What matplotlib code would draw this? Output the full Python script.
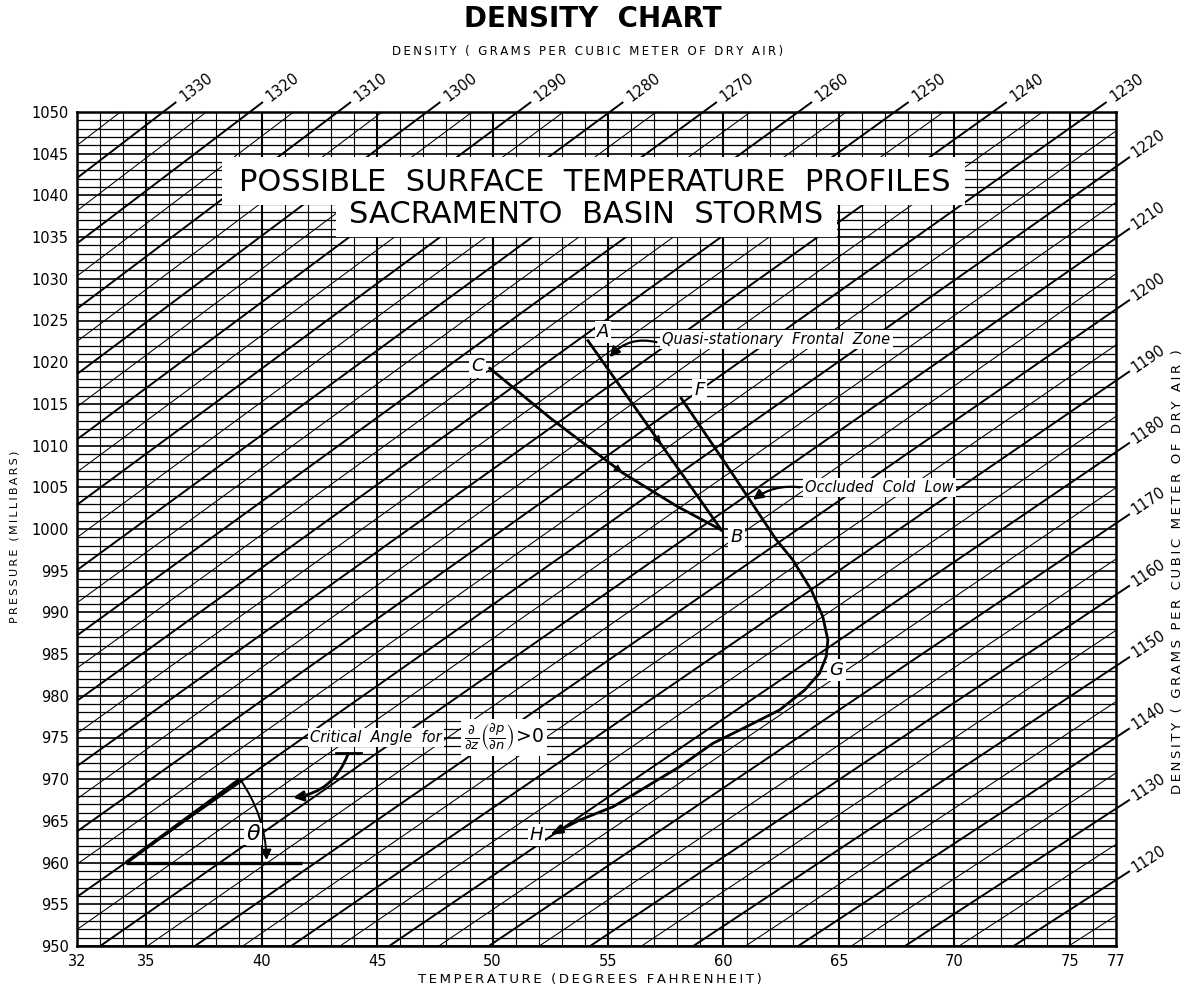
import numpy as np
import matplotlib
matplotlib.use("Agg")
import matplotlib.pyplot as plt
from matplotlib.patches import FancyArrowPatch, Rectangle

# ---------------- data ----------------
temp_ticks = [32, 35, 40, 45, 50, 55, 60, 65, 70, 75, 77]
pressure_ticks = list(range(950, 1051, 5))
temp_grid = list(range(32, 78))            # vertical rulings, every 1 F
pressure_grid = list(range(950, 1051))     # horizontal rulings, every 1 mb
density_values = list(range(1110, 1345, 5))  # density isopleths, g/m3
top_labels = [1330, 1320, 1310, 1300, 1290, 1280, 1270, 1260, 1250, 1240, 1230]
right_labels = [1220, 1210, 1200, 1190, 1180, 1170, 1160, 1150, 1140, 1130, 1120]

# profiles (temperature F, pressure mb)
ab_T = [54.13, 59.91]
ab_p = [1022.58, 999.88]
cb_T = [49.88, 52.5, 55.65, 58.0, 59.91]
cb_p = [1019.27, 1013.3, 1006.7, 1002.7, 999.88]
fgh_T = [58.17, 60.27, 62.0, 62.29, 63.0, 63.8, 64.3, 64.52, 64.45, 64.16,
         63.52, 62.43, 61.0, 59.54, 58.1, 56.66, 55.22, 53.77, 52.48]
fgh_p = [1015.67, 1007.1, 999.9, 998.7, 996.3, 992.7, 989.5, 986.7, 984.7, 982.7,
         980.7, 978.3, 976.3, 974.3, 971.5, 969.1, 966.7, 965.1, 963.3]

point_labels = ["A", "B", "C", "F", "G", "H"]
point_T = [54.78, 60.56, 49.35, 58.97, 64.89, 51.9]
point_p = [1023.66, 999.1, 1019.5, 1016.7, 983.1, 963.3]

# critical angle construction
crit_T = [34.13, 39.06]
crit_p = [960.0, 970.0]
base_T = [34.13, 41.75]
base_p = [960.0, 960.0]

R_DRY = 287.05
T_OFF = 0.35


def p_of(rho, T):
    return rho / 1000 * R_DRY * ((T - 32 - T_OFF) * 5 / 9 + 273.15) / 100


def T_of(rho, p):
    return (p * 100 / (rho / 1000 * R_DRY) - 273.15) * 9 / 5 + 32 + T_OFF


def spaced(s, sep="\u2009"):
    return sep.join(list(s))


# ---------------- figure ----------------
W, H = 1186, 990
fig = plt.figure(figsize=(W / 100, H / 100), dpi=100)
ax = fig.add_axes([77 / W, 44 / H, (1116 - 77) / W, (946 - 112) / H])
ax.set_xlim(32, 77)
ax.set_ylim(950, 1050)

# rulings
for t in temp_grid:
    lw = 1.5 if t % 5 == 0 else 0.8
    ax.axvline(t, color="black", lw=lw, zorder=1)
for p in pressure_grid:
    lw = 1.2 if p % 5 == 0 else 0.9
    ax.axhline(p, color="black", lw=lw, zorder=1)

# density isopleths
for rho in density_values:
    T0 = max(32.0, T_of(rho, 950))
    T1 = min(77.0, T_of(rho, 1050))
    if T0 >= T1:
        continue
    labeled = rho in top_labels or rho in right_labels
    if labeled:
        if T_of(rho, 1050) <= 77:
            pe = 1051.2
            Te = T_of(rho, pe)
        else:
            Te = 77.6
            pe = p_of(rho, Te)
    else:
        Te, pe = T1, p_of(rho, T1)
    lw = 1.4 if rho % 10 == 0 else 0.75
    ax.plot([T0, Te], [p_of(rho, T0), pe], color="black", lw=lw,
            zorder=1.5, clip_on=False, solid_capstyle="butt")
    if labeled:
        d0 = ax.transData.transform((Te, pe))
        d1 = ax.transData.transform((Te + 1, p_of(rho, Te + 1)))
        ang = np.degrees(np.arctan2(d1[1] - d0[1], d1[0] - d0[0]))
        ux, uy = np.cos(np.radians(ang)), np.sin(np.radians(ang))
        off = 4.5 if rho in top_labels else 3.0
        ax.annotate(str(rho), xy=(Te, pe), xytext=(off * ux, off * uy),
                    textcoords="offset points", rotation=ang,
                    rotation_mode="anchor", ha="left", va="center",
                    fontsize=10.5, annotation_clip=False)

# axes styling
for s in ax.spines.values():
    s.set_linewidth(1.8)
    s.set_zorder(6)
ax.set_xticks(temp_ticks)
ax.set_yticks(pressure_ticks)
ax.tick_params(length=0, labelsize=10.5, pad=6)

# title box
ax.add_patch(Rectangle((38.3, 1038.85), 70.45 - 38.3, 1044.6 - 1038.85,
                       facecolor="white", edgecolor="none", zorder=3))
ax.add_patch(Rectangle((43.2, 1035.0), 64.9 - 43.2, 1038.9 - 1035.0,
                       facecolor="white", edgecolor="none", zorder=3))
ax.text(54.42, 1041.6, "POSSIBLE  SURFACE  TEMPERATURE  PROFILES",
        ha="center", va="center", fontsize=22, zorder=4)
ax.text(54.03, 1037.65, "SACRAMENTO  BASIN  STORMS",
        ha="center", va="center", fontsize=22, zorder=4)

# profiles
plw = 2.0
ax.plot(ab_T, ab_p, color="black", lw=plw, zorder=4)
ax.plot(cb_T, cb_p, color="black", lw=plw, zorder=4, solid_joinstyle="round")
ax.plot(fgh_T[:-1], fgh_p[:-1], color="black", lw=plw, zorder=4,
        solid_joinstyle="round")
ax.annotate("", xy=(fgh_T[-1], fgh_p[-1]), xytext=(fgh_T[-2], fgh_p[-2]),
            arrowprops=dict(arrowstyle="-|>,head_length=0.7,head_width=0.25",
                            color="black", lw=plw, shrinkA=0, shrinkB=0),
            zorder=4)


def mid_arrow(T0, p0, T1, p1, frac):
    Tm = T0 + (T1 - T0) * frac
    pm = p0 + (p1 - p0) * frac
    Tb = Tm - (T1 - T0) * 0.03
    pb = pm - (p1 - p0) * 0.03
    ax.annotate("", xy=(Tm, pm), xytext=(Tb, pb),
                arrowprops=dict(arrowstyle="-|>,head_length=0.6,head_width=0.25",
                                color="black", lw=0.5, shrinkA=0, shrinkB=0),
                zorder=4)


mid_arrow(ab_T[0], ab_p[0], ab_T[1], ab_p[1], 0.55)
mid_arrow(cb_T[1], cb_p[1], cb_T[2], cb_p[2], 1.0)

# point labels
for lab, t, p in zip(point_labels, point_T, point_p):
    ax.text(t, p, lab, fontsize=13, style="italic", ha="center", va="center",
            zorder=5, bbox=dict(boxstyle="square,pad=0.12", fc="white", ec="none"))

# annotations
ann_kw = dict(fontsize=10.5, style="italic", ha="left", va="center", zorder=5,
              bbox=dict(boxstyle="square,pad=0.15", fc="white", ec="none"))
ax.text(57.35, 1022.7, "Quasi-stationary  Frontal  Zone", **ann_kw)
ax.text(63.52, 1005.0, "Occluded  Cold  Low", **ann_kw)
ax.text(42.1, 975.0, "Critical  Angle  for", **ann_kw)
math_kw = dict(ann_kw)
math_kw["fontsize"] = 13.5
ax.text(48.75, 975.0,
        r"$\frac{\partial}{\partial z}\left(\frac{\partial p}{\partial n}\right)\!>\!0$",
        **math_kw)


def curved_arrow(start, end, rad, lw=1.6):
    a = FancyArrowPatch(start, end, connectionstyle=f"arc3,rad={rad}",
                        arrowstyle="-|>,head_length=6,head_width=3",
                        color="black", lw=lw, zorder=5, shrinkA=0, shrinkB=0)
    ax.add_patch(a)


curved_arrow((57.1, 1022.4), (55.07, 1020.6), 0.3)
curved_arrow((63.3, 1005.0), (61.28, 1003.5), 0.2)
curved_arrow((43.75, 973.1), (41.36, 967.8), -0.3, lw=2.0)
ax.plot([43.2, 44.3], [973.1, 973.1], color="black", lw=2.0, zorder=5)

# critical angle
ax.plot(crit_T, crit_p, color="black", lw=2.6, zorder=4, solid_capstyle="butt")
ax.plot(base_T, base_p, color="black", lw=2.4, zorder=4, solid_capstyle="butt")
curved_arrow((crit_T[1], crit_p[1]), (40.21, 960.3), -0.15, lw=1.4)
ax.text(39.63, 963.4, r"$\theta$", fontsize=16, ha="center", va="center", zorder=6,
        bbox=dict(boxstyle="square,pad=0.05", fc="white", ec="none"))

# titles
fig.text(0.5, 1 - 19 / H, "DENSITY  CHART", ha="center", va="center",
         fontsize=20, fontweight="bold")
fig.text(588 / W, 1 - 52 / H, spaced("DENSITY ( GRAMS PER CUBIC METER OF DRY AIR)"),
         ha="center", va="center", fontsize=8.5)
fig.text(590 / W, 1 - 980 / H, spaced("TEMPERATURE (DEGREES FAHRENHEIT)"),
         ha="center", va="center", fontsize=9.5)
fig.text(15 / W, 1 - 537 / H, spaced("PRESSURE (MILLIBARS)"), rotation=90,
         ha="center", va="center", fontsize=8)
fig.text(1177 / W, 1 - 572 / H,
         spaced("DENSITY ( GRAMS PER CUBIC METER OF DRY AIR )"), rotation=90,
         ha="center", va="center", fontsize=9.5)

fig.savefig("out.png", dpi=100)
